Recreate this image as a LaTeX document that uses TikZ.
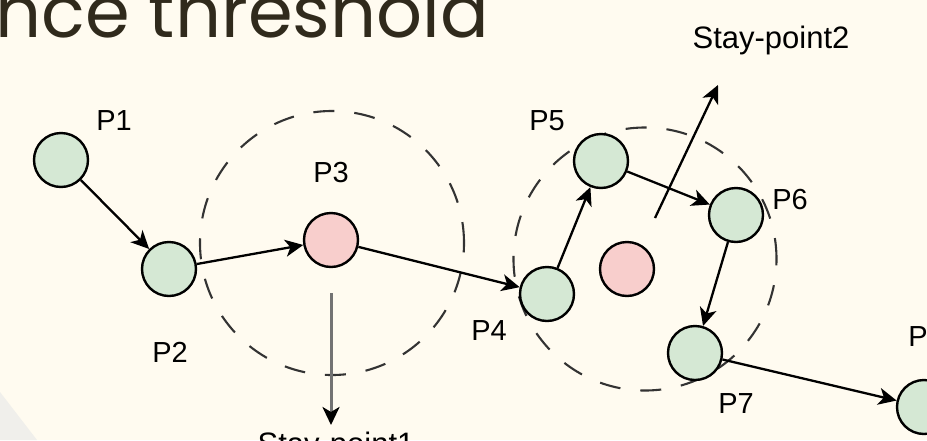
\documentclass[tikz,border=0pt]{standalone}
\usepackage{fontspec}
\setmainfont{Liberation Sans}
\newfontfamily\titlefont{Poppins}
\usetikzlibrary{arrows.meta}
\definecolor{bg}{HTML}{FFFBF0}
\definecolor{tri}{HTML}{F0EFEB}
\definecolor{ttl}{HTML}{302A1C}
\definecolor{grn}{HTML}{D5E8D4}
\definecolor{pnk}{HTML}{F8CECC}
\begin{document}
\begin{tikzpicture}[x=1pt,y=-1pt,
  ptbase/.style={circle, draw=black, line width=2.4pt, minimum size=54pt, inner sep=0pt},
  gpt/.style={ptbase, fill=grn},
  ppt/.style={ptbase, fill=pnk},
  lbl/.style={font=\fontsize{29}{29}\selectfont, text=black, inner sep=0pt},
  slbl/.style={font=\fontsize{31}{31}\selectfont, text=black, inner sep=0pt},
  arr/.style={-{Stealth[length=18pt,width=17pt,inset=5pt]}, line width=2.3pt},
  zone/.style={circle, draw=black!80, dash pattern=on 21pt off 20pt, line width=2.1pt, inner sep=0pt}]
\useasboundingbox (0,0) rectangle (927,440);
\clip (0,0) rectangle (927,440);
\fill[bg] (0,0) rectangle (927,440);
\fill[tri] (0,392) -- (37,440) -- (0,440) -- cycle;
\node[anchor=base east, font=\titlefont\fontsize{72}{72}\selectfont, text=ttl, inner sep=0pt] (title) at (489,37) {ance threshold};
% zones
\node[zone, minimum size=264pt] (z1) at (332,243) {};
\node[zone, minimum size=263pt] (z2) at (645,259) {};
% points
\node[gpt] (P1) at (61,160) {};
\node[gpt] (P2) at (169,269) {};
\node[ppt] (P3) at (331,240) {};
\node[gpt] (P4) at (547,294) {};
\node[gpt] (P5) at (601,161) {};
\node[gpt] (P6) at (736,215) {};
\node[ppt] (C2) at (627,269) {};
\node[gpt] (P7) at (695,353) {};
\node[gpt] (P8) at (924,407) {};
% labels
\node[lbl] (lP1) at (114,121) {P1};
\node[lbl] (lP2) at (170,352) {P2};
\node[lbl] (lP3) at (331,173) {P3};
\node[lbl] (lP4) at (489,331) {P4};
\node[lbl] (lP5) at (547,121) {P5};
\node[lbl] (lP6) at (790,200) {P6};
\node[lbl] (lP7) at (736,404) {P7};
\node[lbl] (lP8) at (926,337) {P8};
\node[slbl, anchor=base] (s2) at (771,48) {Stay-point2};
\node[slbl, anchor=north] (s1) at (336,432) {Stay-point1};
% connectors
\draw[arr] (P1) -- (P2);
\draw[arr] (P2) -- (P3);
\draw[arr] (P3) -- (P4);
\draw[arr] (P4) -- (P5);
\draw[arr] (P5) -- (P6);
\draw[arr] (P6) -- (P7);
\draw[arr] (P7) -- (P8);
\coordinate (a1s) at (331,293);
\coordinate (a1e) at (331,425);
\draw[-{Stealth[length=18pt,width=17pt,inset=5pt,color=black]}, line width=3pt, draw=black!55] (a1s) -- (a1e);
\coordinate (a2s) at (655,218);
\coordinate (a2e) at (718,85);
\draw[arr] (a2s) -- (a2e);
\end{tikzpicture}
\end{document}
